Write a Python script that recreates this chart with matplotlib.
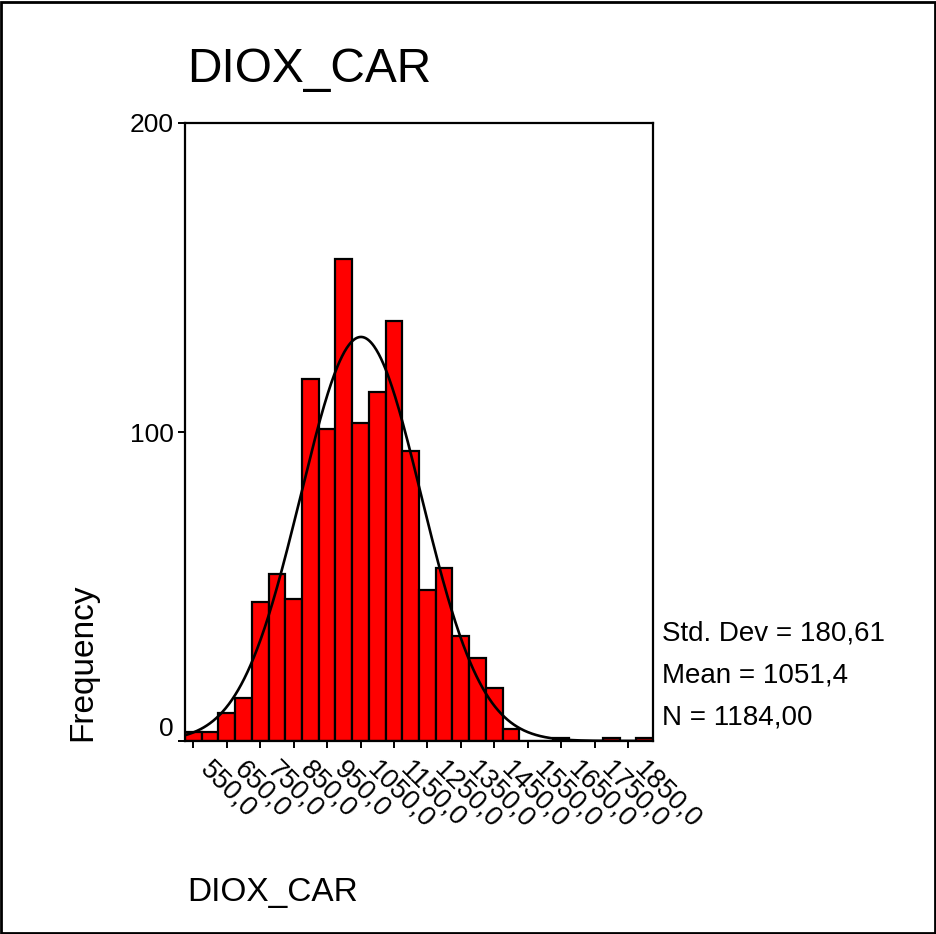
import numpy as np
import matplotlib
matplotlib.use("Agg")
import matplotlib.pyplot as plt
from matplotlib.patches import Rectangle
from matplotlib.transforms import ScaledTranslation

plt.rcParams['font.family'] = ['Liberation Sans', 'DejaVu Sans']

# histogram of DIOX_CAR, bins of width 50 centred on 550, 600, ... 1900
bin_centers = np.arange(550, 1901, 50)
counts = [3, 3, 9, 14, 45, 54, 46, 117, 101, 156, 103, 113, 136, 94,
          49, 56, 34, 27, 17, 4, 0, 0, 1, 0, 0, 1, 0, 1]
bin_width = 50

# summary stats shown at the right
std_dev = 180.61
mean = 1051.4
n_obs = 1184

xtick_vals = np.arange(550, 1851, 100)
xtick_labels = [f"{v},0" for v in xtick_vals]
ytick_vals = [0, 100, 200]

W, H = 937, 934
fig = plt.figure(figsize=(W / 100, H / 100), dpi=100)
ax = fig.add_axes([185 / W, 1 - 741 / H, (653 - 185) / W, (741 - 123) / H])

ax.bar(bin_centers, counts, width=bin_width, color='#ff0000',
       edgecolor='black', linewidth=1.6, zorder=2)

# fitted normal curve scaled to the counts
xs = np.linspace(525, 1925, 600)
ys = n_obs * bin_width / (std_dev * np.sqrt(2 * np.pi)) * np.exp(-0.5 * ((xs - mean) / std_dev) ** 2)
ax.plot(xs, ys, color='black', lw=1.9, zorder=3)

ax.set_xlim(525, 1925)
ax.set_ylim(0, 200)
for s in ax.spines.values():
    s.set_linewidth(1.6)

ax.set_xticks(xtick_vals)
ax.set_xticklabels([])
ax.set_yticks(ytick_vals)
ax.set_yticklabels([])
ax.tick_params(direction='out', length=5, width=1.4)

# rotated x labels
off = ScaledTranslation(0.20, -0.15, fig.dpi_scale_trans)
for v, lab in zip(xtick_vals, xtick_labels):
    ax.text(v, 0, lab, transform=ax.get_xaxis_transform() + off,
            rotation=-45, rotation_mode='anchor', ha='left', va='top',
            fontsize=19.5)

# y labels, the zero one sits a bit above its tick
for v in ytick_vals:
    dy = 0.14 if v == 0 else 0.0
    toff = ScaledTranslation(-0.11, dy, fig.dpi_scale_trans)
    ax.text(0, v, str(v), transform=ax.get_yaxis_transform() + toff,
            ha='right', va='center_baseline', fontsize=19)

fig.text(187 / W, 1 - 82 / H, 'DIOX_CAR', fontsize=34.5, va='baseline')
fig.text(187 / W, 1 - 901 / H, 'DIOX_CAR', fontsize=24, va='baseline')
fig.text(83 / W, 1 - 741 / H, 'Frequency', fontsize=24, rotation=90,
         ha='center', va='bottom')

stats = ["Std. Dev = " + f"{std_dev:.2f}".replace('.', ','),
         "Mean = " + f"{mean:.1f}".replace('.', ','),
         "N = " + f"{n_obs:.2f}".replace('.', ',')]
for i, s in enumerate(stats):
    fig.text(662 / W, 1 - (640 + 42 * i) / H, s, fontsize=20, va='baseline')

# outer frame
fig.patches.append(Rectangle((0.001, 0.001), 0.997, 0.997, transform=fig.transFigure,
                             fill=False, edgecolor='black', linewidth=2))

fig.savefig('out.png', dpi=100)
